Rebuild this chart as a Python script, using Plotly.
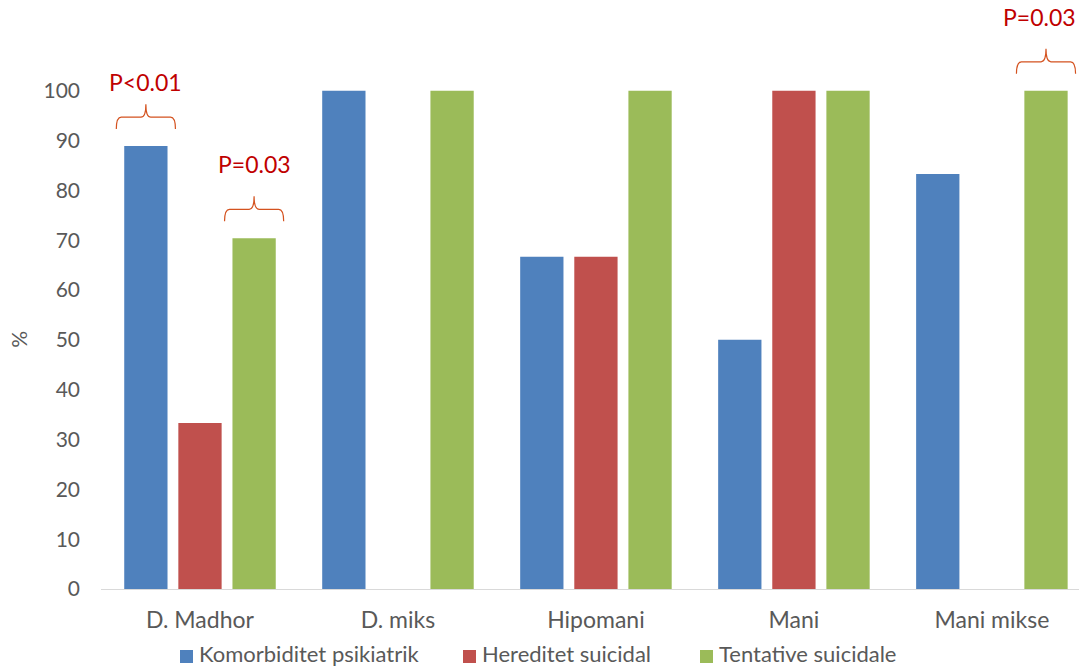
import plotly.graph_objects as go

# Categories and series (percent of patients)
categories = ["D. Madhor", "D. miks", "Hipomani", "Mani", "Mani mikse"]
komorbiditet = [88.9, 100, 66.7, 50, 83.3]
hereditet = [33.3, 0, 66.7, 100, 0]
tentative = [70.4, 100, 100, 100, 100]
series_names = ["Komorbiditet psikiatrik", "Hereditet suicidal", "Tentative suicidale"]
series_colors = ["#4F81BD", "#C0504D", "#9BBB59"]
y_ticks = list(range(0, 101, 10))

# Significance markers: (category index, series index, label)
significance = [(0, 0, "P<0.01"), (0, 2, "P=0.03"), (4, 2, "P=0.03")]
# label styling per marker: extra lift above brace tip, horizontal nudge (px)
label_lift = [1.2, 3.2, 3.2]
label_xshift = [0, 0, -7]

W, H = 1079, 668
ML, MR, MT, MB = 101, 0, 1, 79
BARGAP = 0.18
BARGROUPGAP = 0.2
FONT = "Lato, Calibri, sans-serif"
GREY = "#595959"

fig = go.Figure()
xpos = list(range(len(categories)))
all_series = [komorbiditet, hereditet, tentative]
for name, vals, col in zip(series_names, all_series, series_colors):
    fig.add_trace(go.Bar(x=xpos, y=vals, name=name, showlegend=False,
                         marker=dict(color=col, line=dict(width=0))))

slot = (1 - BARGAP) / 3
half = slot * (1 - BARGROUPGAP) / 2 + 0.04


def brace_path(xl, xr, y_end, y_line, y_tip):
    xc = (xl + xr) / 2
    r = 0.025
    return (f"M {xl},{y_end} Q {xl},{y_line} {xl + r},{y_line} "
            f"L {xc - r},{y_line} Q {xc},{y_line} {xc},{y_tip} "
            f"Q {xc},{y_line} {xc + r},{y_line} "
            f"L {xr - r},{y_line} Q {xr},{y_line} {xr},{y_end}")


for (ci, si, label), lift, dx in zip(significance, label_lift, label_xshift):
    xc = ci + (si - 1) * slot
    v = all_series[si][ci]
    y_end = v + 3.4
    y_line = y_end + 2.4
    y_tip = y_line + 2.6
    fig.add_shape(type="path", xref="x", yref="y",
                  path=brace_path(xc - half, xc + half, y_end, y_line, y_tip),
                  line=dict(color="#D4521F", width=1.2))
    fig.add_annotation(x=xc, y=y_tip + lift, xref="x", yref="y", text=label,
                       showarrow=False, yanchor="bottom", xshift=dx,
                       font=dict(family=FONT, size=23, color="#C00000"))


def px_to_paper_x(px):
    return (px - ML) / (W - ML - MR)


def px_to_paper_y(py):
    return (H - MB - py) / (H - MB - MT)


# rotated axis unit, centred on the 0-100 span
fig.add_annotation(x=px_to_paper_x(19), xref="paper", xanchor="center", y=50, yref="y",
                   text="%", textangle=-90, showarrow=False,
                   font=dict(family=FONT, size=21, color=GREY))

# legend row below the category labels
legend_left_px = [180, 463, 700]
sq = 13
for name, col, lx in zip(series_names, series_colors, legend_left_px):
    fig.add_shape(type="rect", xref="paper", yref="paper",
                  x0=px_to_paper_x(lx), x1=px_to_paper_x(lx + sq),
                  y0=px_to_paper_y(663), y1=px_to_paper_y(663 - sq),
                  fillcolor=col, line=dict(width=0))
    fig.add_annotation(x=px_to_paper_x(lx + sq + 5), xref="paper", xanchor="left",
                       y=px_to_paper_y(H), yref="paper", yanchor="bottom",
                       text=name, showarrow=False, borderpad=0,
                       font=dict(family=FONT, size=22, color=GREY))

fig.update_layout(
    width=W, height=H,
    margin=dict(l=ML, r=MR, t=MT, b=MB, autoexpand=False),
    paper_bgcolor="white", plot_bgcolor="white",
    barmode="group", bargap=BARGAP, bargroupgap=BARGROUPGAP,
    font=dict(family=FONT, size=21, color=GREY),
    showlegend=False,
    xaxis=dict(range=[-0.5, 4.44], tickvals=xpos, ticktext=categories,
               showgrid=False, zeroline=False, showline=True, linecolor="#D9D9D9",
               linewidth=1.3, ticks="", ticklabelstandoff=10, automargin=False,
               tickfont=dict(size=23, color=GREY)),
    yaxis=dict(range=[0, 118], tickvals=y_ticks, showgrid=False, zeroline=False,
               showline=False, ticks="", ticklabelstandoff=20, automargin=False,
               tickfont=dict(size=21, color=GREY)),
)

fig.write_html("out.html")
